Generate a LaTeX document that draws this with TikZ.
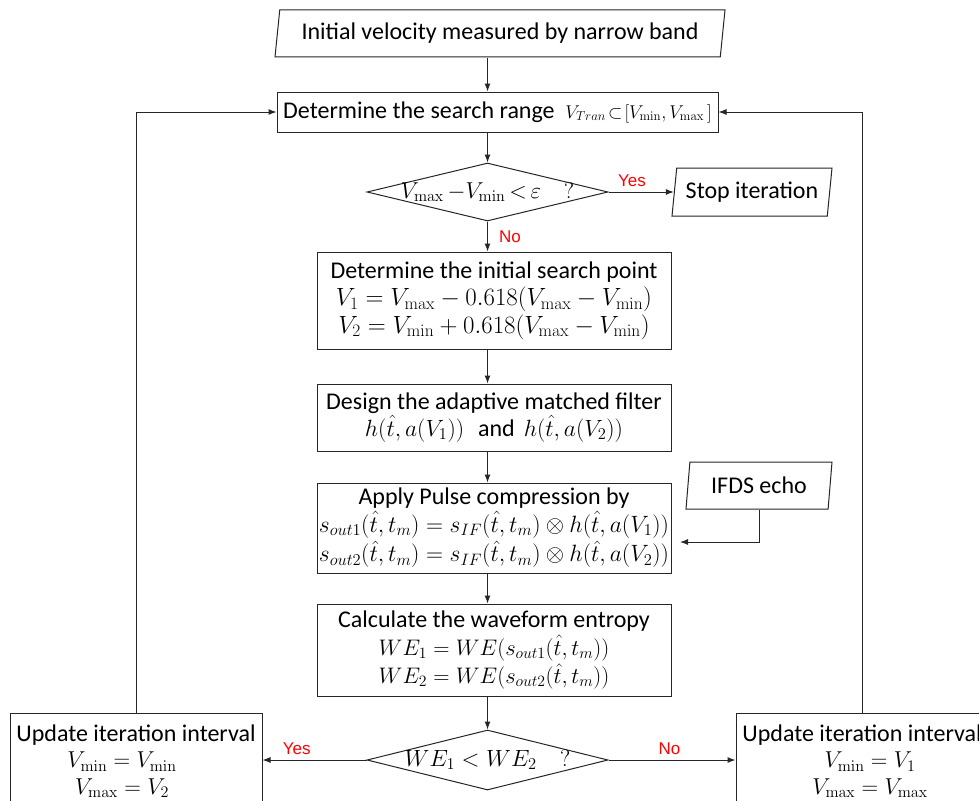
\RequirePackage{fix-cm}
\documentclass[tikz,border=0pt]{standalone}
\usepackage[no-math]{fontspec}
\setmainfont{Carlito}
\newfontfamily\labfont{Liberation Sans}
\usetikzlibrary{arrows.meta,shapes.geometric}
\newcommand{\fsz}{\fontsize{24}{26.5}\selectfont}
\newcommand{\msz}[1]{\fontsize{#1}{#1}\selectfont}
\tikzset{
  line/.style={draw=black!85, line width=1pt},
  arr/.style={line, -{Latex[length=8pt,width=6pt]}},
  box/.style={line, rectangle, inner sep=0pt, align=center, font=\fsz},
  para/.style={line, trapezium, trapezium stretches body=true, inner sep=0pt,
     trapezium left angle=77, trapezium right angle=103, font=\fsz},
  decide/.style={line, diamond, inner sep=0pt, font=\fsz},
  lbl/.style={text=red, font=\labfont\fontsize{17}{19}\selectfont, inner sep=1pt},
}
\begin{document}
\begin{tikzpicture}[x=1pt,y=-1pt]
\clip (0,0) rectangle (979,800);
\fill[white] (0,0) rectangle (979,800);

\node[para, minimum width=450, minimum height=47] (init) at (500,33.5) {Initial velocity measured by narrow band};
\node[box, minimum width=441, minimum height=40] (search) at (497.5,112) {Determine the search range \ {\msz{18.5}$V_{Tran}\!\subset\![V_{\mathrm{min}},V_{\mathrm{max}}\,]$}};
\node[decide, minimum width=241, minimum height=58] (d1) at (487.5,192) {\makebox[0pt]{\msz{23}$V_{\mathrm{max}}\,{-}V_{\mathrm{min}}\,{<}\,\varepsilon\quad ?$}};
\node[para, minimum width=160, minimum height=48] (stop) at (752,192) {Stop iteration};
\node[box, minimum width=354, minimum height=97] (isp) at (494,300.5) {Determine the initial search point\\[1pt]
  {\msz{24.9}$V_1=V_{\mathrm{max}}-0.618(V_{\mathrm{max}}-V_{\mathrm{min}})$}\\[1pt]
  {\msz{24.9}$V_2=V_{\mathrm{min}}+0.618(V_{\mathrm{max}}-V_{\mathrm{min}})$}};
\node[box, minimum width=354, minimum height=67] (design) at (494,417.5) {Design the adaptive matched filter\\
  {\msz{23.5}$h(\hat{t},a(V_1))$}\hspace{14pt}and\hspace{9pt}{\msz{23.5}$h(\hat{t},a(V_2))$}};
\node[box, minimum width=354, minimum height=90] (apply) at (494,528) {Apply Pulse compression by\\[1pt]
  {\msz{23.6}$s_{out1}(\hat{t},t_m)=s_{IF}(\hat{t},t_m)\otimes h(\hat{t},a(V_1))$}\\[2pt]
  {\msz{23.6}$s_{out2}(\hat{t},t_m)=s_{IF}(\hat{t},t_m)\otimes h(\hat{t},a(V_2))$}};
\node[para, minimum width=146, minimum height=47] (ifds) at (759,485.5) {IFDS echo};
\coordinate (ifdsin) at (680,542);
\node[box, minimum width=354, minimum height=92] (we) at (494,650) {Calculate the waveform entropy\\[1pt]
  {\msz{22.5}$WE_1=WE(s_{out1}(\hat{t},t_m))$}\\[2pt]
  {\msz{22.5}$WE_2=WE(s_{out2}(\hat{t},t_m))$}};
\node[decide, minimum width=241, minimum height=60] (d2) at (487.5,760) {\makebox[0pt]{\msz{23.5}$WE_1<WE_2\quad ?$}};
\node[box, minimum width=252, minimum height=96] (left) at (136,761) {Update iteration interval\\
  \hspace*{-28pt}{\msz{23}$V_{\mathrm{min}}=V_{\mathrm{min}}$}\\
  \hspace*{-28pt}{\msz{23}$V_{\mathrm{max}}=V_2$}};
\node[box, minimum width=252, minimum height=96] (right) at (862,761) {Update iteration interval\\
  \hspace*{16pt}{\msz{23}$V_{\mathrm{min}}=V_1$}\\
  \hspace*{16pt}{\msz{23}$V_{\mathrm{max}}=V_{\mathrm{max}}$}};

\draw[arr] (init.south -| d1.north) -- (search.north -| d1.north);
\draw[arr] (search.south -| d1.north) -- (d1.north);
\draw[arr] (d1.east) -- node[lbl, pos=0.36, above=4pt] (yes1) {Yes} (stop.west);
\draw[arr] (d1.south) -- node[lbl, right=10pt] (no1) {No} (isp.north -| d1.south);
\draw[arr] (isp.south -| d1.south) -- (design.north -| d1.south);
\draw[arr] (design.south -| d1.south) -- (apply.north -| d1.south);
\draw[arr] (ifds.south) |- (ifdsin);
\draw[arr] (apply.south -| d1.south) -- (we.north -| d1.south);
\draw[arr] (we.south -| d2.north) -- (d2.north);
\draw[arr] (d2.west) -- node[lbl, pos=0.67, above=4pt] (yes2) {Yes} (left.east |- d2.west);
\draw[arr] (d2.east) -- node[lbl, pos=0.48, above=4pt] (no2) {No} (right.west |- d2.east);
\draw[arr] (left.north) |- (search.west);
\draw[arr] (right.north) |- (search.east);
\end{tikzpicture}
\end{document}
